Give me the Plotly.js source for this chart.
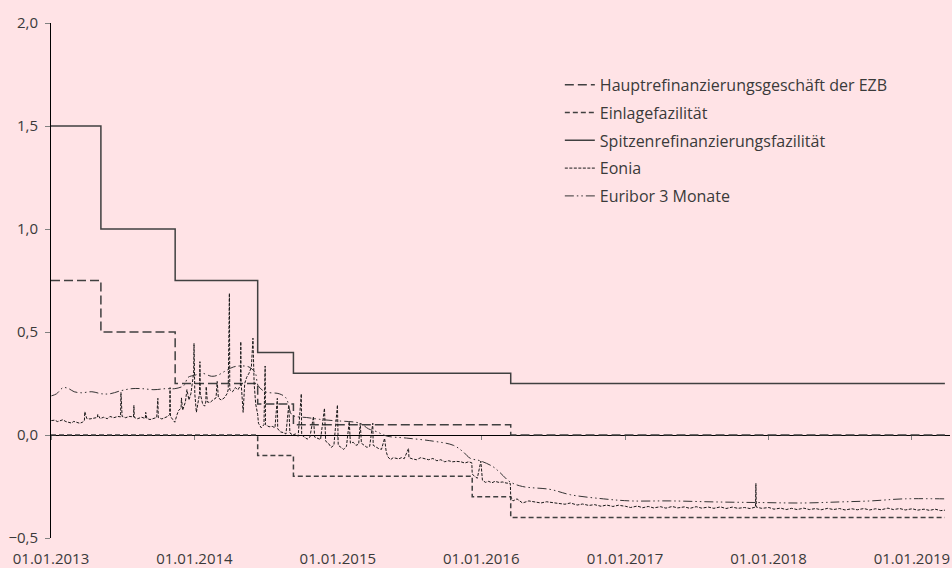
<!DOCTYPE html>
<html>
<head>
<meta charset="utf-8">
<script src="https://cdn.plot.ly/plotly-3.0.1.min.js"></script>
<style>html,body{margin:0;padding:0;background:#FFE3E6;}#chart{width:952px;height:568px;}</style>
</head>
<body>
<div id="chart"></div>
<script>
// ---- policy rates (change dates and values) ----
const mroDates = ["2013-01-01","2013-05-08","2013-11-13","2014-06-11","2014-09-10","2016-03-16","2019-03-26"];
const mroValues = [0.75,0.50,0.25,0.15,0.05,0.00,0.00];
const depoDates = ["2013-01-01","2014-06-11","2014-09-10","2015-12-09","2016-03-16","2019-03-26"];
const depoValues = [0.00,-0.10,-0.20,-0.30,-0.40,-0.40];
const mlfDates = ["2013-01-01","2013-05-08","2013-11-13","2014-06-11","2014-09-10","2016-03-16","2019-03-26"];
const mlfValues = [1.50,1.00,0.75,0.40,0.30,0.25,0.25];

// ---- Eonia ----
const eonia = [
["2013-01-02",0.07],["2013-01-10",0.072],["2013-01-18",0.065],["2013-01-25",0.068],["2013-01-31",0.074],
["2013-02-08",0.065],["2013-02-15",0.062],["2013-02-22",0.058],["2013-02-28",0.066],
["2013-03-08",0.06],["2013-03-15",0.057],["2013-03-22",0.062],["2013-03-27",0.07],["2013-03-28",0.113],
["2013-04-02",0.08],["2013-04-10",0.078],["2013-04-19",0.082],["2013-04-29",0.085],["2013-04-30",0.10],
["2013-05-06",0.08],["2013-05-15",0.086],["2013-05-24",0.079],["2013-05-31",0.09],
["2013-06-10",0.084],["2013-06-20",0.09],["2013-06-27",0.088],["2013-06-28",0.207],
["2013-07-01",0.09],["2013-07-10",0.084],["2013-07-19",0.09],["2013-07-30",0.088],["2013-07-31",0.144],
["2013-08-01",0.085],["2013-08-09",0.079],["2013-08-20",0.086],["2013-08-29",0.08],["2013-08-30",0.11],
["2013-09-02",0.08],["2013-09-10",0.075],["2013-09-20",0.082],["2013-09-27",0.085],["2013-09-30",0.178],
["2013-10-01",0.085],["2013-10-10",0.078],["2013-10-18",0.086],["2013-10-25",0.09],["2013-10-30",0.10],["2013-10-31",0.23],
["2013-11-01",0.09],["2013-11-08",0.072],["2013-11-12",0.062],["2013-11-18",0.10],["2013-11-22",0.12],["2013-11-28",0.13],["2013-11-29",0.18],
["2013-12-02",0.12],["2013-12-09",0.16],["2013-12-13",0.22],["2013-12-18",0.17],["2013-12-23",0.20],["2013-12-27",0.27],["2013-12-30",0.30],["2013-12-31",0.445],
["2014-01-02",0.20],["2014-01-06",0.11],["2014-01-10",0.15],["2014-01-14",0.20],["2014-01-15",0.356],["2014-01-16",0.20],["2014-01-22",0.15],["2014-01-27",0.14],["2014-01-30",0.16],["2014-01-31",0.235],
["2014-02-03",0.16],["2014-02-10",0.158],["2014-02-17",0.17],["2014-02-25",0.18],["2014-02-28",0.26],
["2014-03-03",0.18],["2014-03-10",0.17],["2014-03-18",0.18],["2014-03-25",0.20],["2014-03-28",0.22],["2014-03-31",0.688],
["2014-04-01",0.22],["2014-04-08",0.21],["2014-04-15",0.23],["2014-04-22",0.22],["2014-04-28",0.24],["2014-04-29",0.453],["2014-04-30",0.25],
["2014-05-05",0.11],["2014-05-09",0.25],["2014-05-14",0.28],["2014-05-20",0.30],["2014-05-26",0.33],["2014-05-30",0.47],
["2014-06-02",0.25],["2014-06-06",0.15],["2014-06-11",0.10],["2014-06-13",0.057],["2014-06-20",0.035],["2014-06-27",0.05],["2014-06-30",0.335],
["2014-07-01",0.05],["2014-07-10",0.04],["2014-07-18",0.042],["2014-07-25",0.035],["2014-07-31",0.178],
["2014-08-01",0.03],["2014-08-08",0.015],["2014-08-15",0.012],["2014-08-22",0.005],["2014-08-29",0.146],
["2014-09-01",0.01],["2014-09-08",0.0],["2014-09-15",0.005],["2014-09-22",-0.006],["2014-09-30",0.20],
["2014-10-01",0.0],["2014-10-08",-0.01],["2014-10-15",-0.02],["2014-10-22",-0.01],["2014-10-31",0.09],
["2014-11-03",-0.01],["2014-11-10",-0.016],["2014-11-18",-0.022],["2014-11-28",0.13],
["2014-12-01",-0.03],["2014-12-08",-0.04],["2014-12-15",-0.06],["2014-12-22",-0.05],["2014-12-31",0.146],
["2015-01-02",-0.05],["2015-01-09",-0.06],["2015-01-16",-0.07],["2015-01-23",-0.055],["2015-01-30",0.065],
["2015-02-02",-0.04],["2015-02-09",-0.035],["2015-02-16",-0.05],["2015-02-23",-0.045],["2015-02-27",0.057],
["2015-03-02",-0.04],["2015-03-09",-0.05],["2015-03-16",-0.06],["2015-03-23",-0.055],["2015-03-31",0.057],
["2015-04-01",-0.05],["2015-04-08",-0.06],["2015-04-15",-0.066],["2015-04-22",-0.07],["2015-04-30",-0.016],
["2015-05-04",-0.08],["2015-05-08",-0.105],["2015-05-15",-0.12],["2015-05-22",-0.11],["2015-05-29",-0.113],
["2015-06-05",-0.116],["2015-06-12",-0.11],["2015-06-19",-0.115],["2015-06-30",-0.065],
["2015-07-01",-0.11],["2015-07-10",-0.116],["2015-07-20",-0.12],["2015-07-31",-0.11],
["2015-08-10",-0.116],["2015-08-20",-0.12],["2015-08-31",-0.114],
["2015-09-10",-0.125],["2015-09-20",-0.12],["2015-09-30",-0.13],
["2015-10-10",-0.125],["2015-10-20",-0.13],["2015-10-30",-0.128],
["2015-11-10",-0.13],["2015-11-20",-0.136],["2015-11-30",-0.13],
["2015-12-08",-0.135],["2015-12-09",-0.19],["2015-12-15",-0.20],["2015-12-22",-0.21],["2015-12-31",-0.127],
["2016-01-04",-0.22],["2016-01-12",-0.23],["2016-01-20",-0.225],["2016-01-28",-0.232],
["2016-02-05",-0.225],["2016-02-15",-0.23],["2016-02-25",-0.228],["2016-03-04",-0.233],["2016-03-15",-0.235],
["2016-03-16",-0.30],["2016-03-22",-0.32],["2016-04-01",-0.31],["2016-04-15",-0.33],["2016-05-01",-0.32],["2016-05-15",-0.326],
["2016-06-01",-0.33],["2016-06-15",-0.324],["2016-07-01",-0.33],["2016-07-15",-0.332],["2016-08-01",-0.336],["2016-08-15",-0.33],
["2016-09-01",-0.34],["2016-09-15",-0.335],["2016-10-01",-0.342],["2016-10-15",-0.338],["2016-11-01",-0.346],["2016-11-15",-0.34],
["2016-12-01",-0.347],["2016-12-15",-0.341],["2017-01-02",-0.346],["2017-01-15",-0.352],["2017-02-01",-0.345],["2017-02-15",-0.353],
["2017-03-01",-0.347],["2017-03-15",-0.354],["2017-04-01",-0.348],["2017-04-15",-0.355],["2017-05-01",-0.347],["2017-05-15",-0.354],
["2017-06-01",-0.349],["2017-06-15",-0.356],["2017-07-01",-0.348],["2017-07-15",-0.355],["2017-08-01",-0.35],["2017-08-15",-0.356],
["2017-09-01",-0.349],["2017-09-15",-0.357],["2017-10-01",-0.35],["2017-10-15",-0.356],["2017-11-01",-0.352],["2017-11-15",-0.357],
["2017-11-29",-0.35],["2017-11-30",-0.235],["2017-12-01",-0.35],["2017-12-15",-0.356],["2018-01-02",-0.352],["2018-01-15",-0.36],
["2018-02-01",-0.355],["2018-02-15",-0.362],["2018-03-01",-0.356],["2018-03-15",-0.362],["2018-04-01",-0.355],["2018-04-15",-0.362],
["2018-05-01",-0.357],["2018-05-15",-0.363],["2018-06-01",-0.356],["2018-06-15",-0.362],["2018-07-01",-0.357],["2018-07-15",-0.364],
["2018-08-01",-0.358],["2018-08-15",-0.363],["2018-09-01",-0.357],["2018-09-15",-0.364],["2018-10-01",-0.358],["2018-10-15",-0.363],
["2018-11-01",-0.355],["2018-11-15",-0.362],["2018-12-01",-0.357],["2018-12-15",-0.364],["2019-01-02",-0.358],["2019-01-15",-0.365],
["2019-02-01",-0.36],["2019-02-15",-0.366],["2019-03-01",-0.36],["2019-03-15",-0.367],["2019-03-26",-0.365]
];

// ---- Euribor 3 Monate ----
const euribor = [
["2013-01-02",0.19],["2013-01-15",0.20],["2013-02-01",0.23],["2013-02-15",0.225],["2013-03-01",0.21],["2013-03-20",0.205],
["2013-04-15",0.21],["2013-05-10",0.20],["2013-05-31",0.20],["2013-06-28",0.215],["2013-07-26",0.225],["2013-08-20",0.225],
["2013-09-20",0.22],["2013-10-20",0.225],["2013-11-12",0.225],["2013-12-05",0.24],["2013-12-16",0.28],
["2014-01-02",0.29],["2014-01-20",0.30],["2014-02-14",0.285],["2014-03-01",0.29],["2014-03-20",0.31],["2014-04-10",0.33],
["2014-04-25",0.335],["2014-05-20",0.33],["2014-06-05",0.30],["2014-06-12",0.24],["2014-06-30",0.21],["2014-08-05",0.20],
["2014-08-22",0.18],["2014-09-05",0.10],["2014-09-15",0.09],["2014-10-13",0.085],["2014-11-16",0.076],["2014-12-20",0.07],
["2015-01-06",0.068],["2015-02-26",0.057],["2015-03-20",0.03],["2015-04-10",0.016],["2015-05-05",-0.005],["2015-06-25",-0.015],
["2015-09-01",-0.03],["2015-10-22",-0.05],["2015-11-15",-0.08],["2015-12-04",-0.113],["2015-12-29",-0.125],
["2016-01-31",-0.154],["2016-02-18",-0.183],["2016-03-14",-0.227],["2016-04-15",-0.25],["2016-06-24",-0.264],
["2016-08-15",-0.29],["2016-11-07",-0.31],["2017-01-15",-0.32],["2017-04-26",-0.32],["2017-08-20",-0.325],
["2017-12-15",-0.328],["2018-03-31",-0.33],["2018-06-30",-0.325],["2018-09-18",-0.32],["2018-12-11",-0.31],["2019-03-26",-0.31]
];

const names = ["Hauptrefinanzierungsgeschäft der EZB","Einlagefazilität","Spitzenrefinanzierungsfazilität","Eonia","Euribor 3 Monate"];
const tickDates = ["2013-01-01","2014-01-01","2015-01-01","2016-01-01","2017-01-01","2018-01-01","2019-01-01"];
const tickLabels = ["01.01.2013","01.01.2014","01.01.2015","01.01.2016","01.01.2017","01.01.2018","01.01.2019"];
const yTicks = [-0.5,0,0.5,1,1.5,2];

const FONT = "Open Sans";
const TXT = "#3a3a3a";

function tr(name, x, y, dash, width, color, shape, grp){
  return {type:"scatter", mode:"lines", name:name, x:x, y:y, legendgroup:grp,
    line:{color:color, width:width, dash:dash, shape:shape}, hoverinfo:"skip"};
}
const data = [
  tr(names[0], mroDates, mroValues, "9px,4px", 1.5, "#404040", "hv", "a"),
  tr(names[1], depoDates, depoValues, "5px,3px", 1.5, "#404040", "hv", "b"),
  tr(names[2], mlfDates, mlfValues, "solid", 1.5, "#404040", "hv", "c"),
  tr(names[3], eonia.map(d=>d[0]), eonia.map(d=>d[1]), "3px,1.5px", 1, "#1a1a1a", "linear", "d"),
  tr(names[4], euribor.map(d=>d[0]), euribor.map(d=>d[1]), "9px,3px,1.5px,3px,1.5px,3px", 1, "#333333", "spline", "e"),
  {type:"scatter", mode:"lines", x:[tickDates[0]], y:[null], xaxis:"x2", showlegend:false, hoverinfo:"skip"}
];

const layout = {
  width:952, height:568,
  margin:{l:51, r:2, t:23, b:30},
  paper_bgcolor:"#FFE3E6", plot_bgcolor:"#FFE3E6",
  separators:",.",
  font:{family:FONT, size:15, color:TXT},
  showlegend:true,
  legend:{x:0.566, y:0.913, xanchor:"left", yanchor:"top", bgcolor:"rgba(0,0,0,0)",
          font:{family:FONT, size:16, color:TXT}, traceorder:"grouped", tracegroupgap:4},
  xaxis:{type:"date", range:["2013-01-01","2019-04-08"], showline:false, showgrid:false, zeroline:false,
         ticks:"", tickmode:"array", tickvals:tickDates, ticktext:tickLabels,
         tickfont:{family:FONT, size:15, color:TXT}, ticklabelstandoff:10},
  xaxis2:{type:"date", matches:"x", overlaying:"x", anchor:"free", position:0.2, side:"bottom",
          showline:false, showgrid:false, zeroline:false, ticks:"outside", ticklen:4, tickwidth:1,
          tickcolor:"#808080", tickmode:"array", tickvals:tickDates, showticklabels:false},
  yaxis:{range:[-0.5,2.0], tickmode:"array", tickvals:yTicks, tickformat:".1f",
         showline:true, linecolor:"#000", linewidth:1, showgrid:false,
         zeroline:true, zerolinecolor:"#000", zerolinewidth:1,
         ticks:"outside", ticklen:5, tickcolor:"#808080", tickwidth:1,
         tickfont:{family:FONT, size:15, color:TXT}, ticklabelstandoff:4}
};

Plotly.newPlot("chart", data, layout, {staticPlot:true, displayModeBar:false});
</script>
</body>
</html>
